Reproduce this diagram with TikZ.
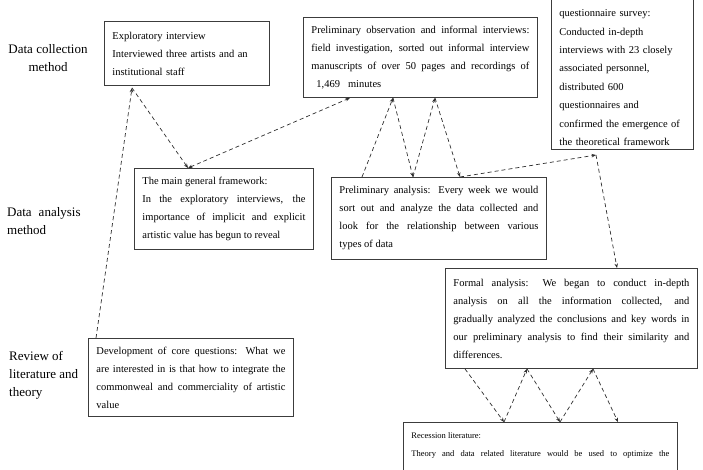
\documentclass[tikz,border=0pt]{standalone}
\usepackage{fontspec}
\setmainfont{Liberation Serif}
\usetikzlibrary{arrows.meta}
\definecolor{boxline}{HTML}{3C3C3C}
\definecolor{arrline}{HTML}{2E2E2E}
\tikzset{
  stage/.style={font=\fontsize{13}{18}\selectfont, inner sep=0pt},
  card/.style={rectangle, draw=boxline, line width=0.9pt, fill=white, anchor=north west,
               font=\fontsize{10.5}{18}\selectfont, align=justify, inner xsep=8pt, inner ysep=4pt},
  link/.style={-{Stealth[length=4.5pt, width=3.5pt]}, line width=0.7pt, draw=arrline,
               dash pattern=on 4pt off 3pt},
  twolink/.style={link, {Stealth[length=4.5pt, width=3.5pt]}-{Stealth[length=4.5pt, width=3.5pt]}},
}

\begin{document}
\begin{tikzpicture}[x=1pt, y=-1pt]
  \useasboundingbox (0,0) rectangle (703,469);
  \clip (0,0) rectangle (703,469);

  % --- row labels
  \node[stage, align=center] (dcm) at (48,58) {Data collection\\method};
  \node[stage, align=left, anchor=west] (dam) at (7,221) {Data\hspace{7pt}analysis\\method};
  \node[stage, align=left, anchor=west] (rlt) at (9,375) {Review of\\literature and\\theory};

  % --- data collection
  \node[card, align=left, text width=149, minimum height=64] (explo) at (104,21)
    {Exploratory interview\\Interviewed three artists and an\\institutional staff};
  \node[card, text width=218, minimum height=80] (obs) at (303,17)
    {Preliminary observation and informal interviews:\linebreak field investigation, sorted out informal interview\linebreak manuscripts of over 50 pages and recordings of\linebreak \hspace*{5pt}1,469\hspace{8pt}minutes};
  \node[card, align=left, anchor=south west, text width=126, font=\fontsize{10.5}{18.4}\selectfont] (formal) at (551,150)
    {Formal interviews and\\questionnaire survey:\\Conducted in-depth\\interviews with 23 closely\\associated personnel,\\distributed 600\\questionnaires and\\confirmed the emergence of\\the theoretical framework};

  % --- data analysis
  \node[card, text width=163, minimum height=81] (frame) at (134,168)
    {The main general framework:\\In the exploratory interviews, the\linebreak importance of implicit and explicit\linebreak artistic value has begun to reveal};
  \node[card, text width=199, minimum height=82] (prelim) at (331,177)
    {Preliminary analysis: Every week we would\linebreak sort out and analyze the data collected and\linebreak look for the relationship between various\linebreak types of data};
  \node[card, text width=236, minimum height=100] (fanal) at (445,268)
    {Formal analysis: We began to conduct in-depth\linebreak analysis on all the information collected, and\linebreak gradually analyzed the conclusions and key words in\linebreak our preliminary analysis to find their similarity and\linebreak differences.};

  % --- literature
  \node[card, text width=189, minimum height=78] (devq) at (88,338)
    {Development of core questions: What we\linebreak are interested in is that how to integrate the\linebreak commonweal and commerciality of artistic\linebreak value};
  \node[card, text width=258, inner ysep=10pt, text depth=40, font=\fontsize{8.5}{18}\selectfont] (recess) at (403,422)
    {Recession literature:\\Theory and data related literature would be used to optimize the\linebreak\mbox{}};

  % --- connectors
  \draw[link] ([xshift=8]devq.north west) -- ([xshift=28, yshift=-2]explo.south west);
  \draw[link] ([xshift=28, yshift=-2]explo.south west) -- ([xshift=54]frame.north west);
  \draw[twolink] ([xshift=54]frame.north west) -- ([xshift=47]obs.south west);
  \foreach \p/\o in {31/90, 82/132}{ \draw[link] ([xshift=\p]prelim.north west) -- ([xshift=\o]obs.south west); }
  \foreach \o/\p in {90/82, 132/129}{ \draw[link] ([xshift=\o]obs.south west) -- ([xshift=\p]prelim.north west); }
  \coordinate (fgap) at ([xshift=45, yshift=-5]formal.south west);
  \draw[link] ([xshift=129]prelim.north west) -- (fgap);
  \draw[link] (fgap) -- ([xshift=172]fanal.north west);
  \foreach \f/\r in {20/101, 82/157, 148/215}{ \draw[link] ([xshift=\f]fanal.south west) -- ([xshift=\r]recess.north west); }
  \foreach \r/\f in {101/82, 157/148}{ \draw[link] ([xshift=\r]recess.north west) -- ([xshift=\f]fanal.south west); }
\end{tikzpicture}
\end{document}
